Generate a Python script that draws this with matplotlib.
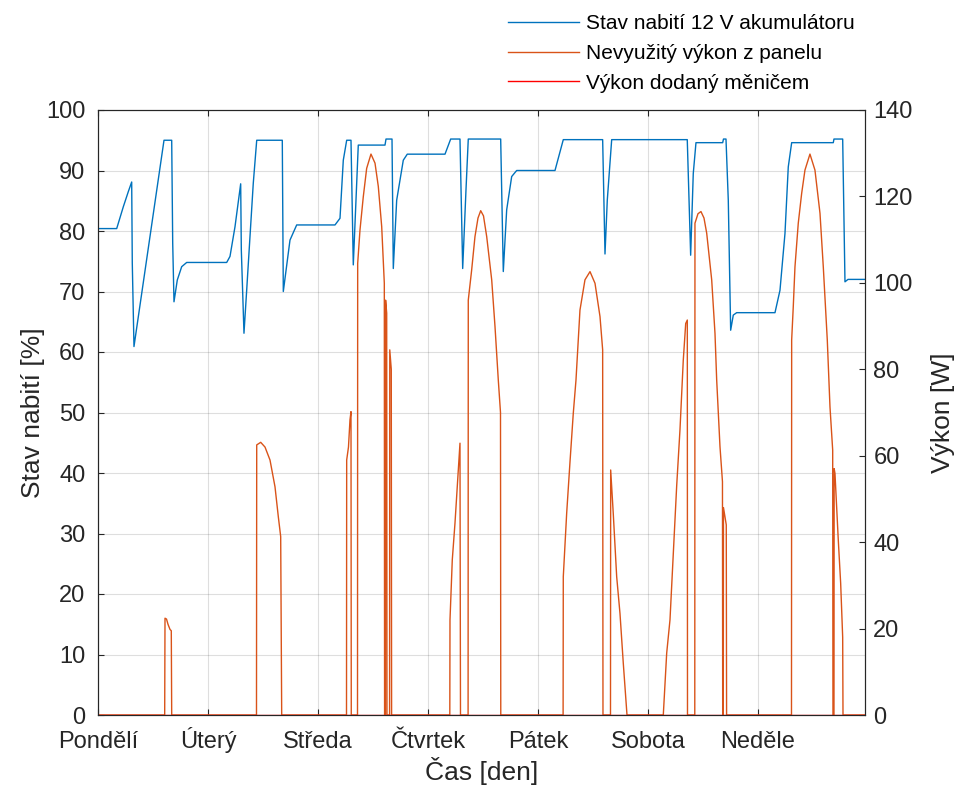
import matplotlib
matplotlib.use("Agg")
import matplotlib.pyplot as plt

plt.rcParams['font.family'] = ['Liberation Sans', 'DejaVu Sans']

# Stav nabiti akumulatoru: cas [h od pondeli 0:00], stav [%]
soc_t = [0.0, 4.08, 5.52, 6.61, 7.35, 7.48, 7.85, 14.40, 16.08, 16.30,
         16.58, 17.30, 18.26, 19.35, 28.08, 28.80, 29.89, 31.13, 31.27, 31.85,
         32.44, 33.88, 34.63, 40.21, 40.43, 41.89, 43.35, 51.71, 52.80, 53.52,
         54.26, 55.20, 55.70, 56.79, 62.62, 62.84, 64.15, 64.43, 65.17, 66.61,
         67.48, 75.71, 76.95, 78.98, 79.57, 80.29, 80.79, 87.86, 88.43, 89.17,
         90.26, 91.35, 99.71, 101.52, 110.11, 110.62, 111.12, 112.08, 128.57, 129.31,
         129.88, 130.47, 136.30, 136.47, 137.02, 137.52, 138.04, 138.61, 139.35, 147.71,
         148.80, 149.89, 150.61, 151.35, 160.43, 160.58, 162.48, 162.98, 163.64, 167.35]
soc_p = [80.4, 80.4, 84.0, 86.5, 88.1, 74.7, 60.9, 95.0, 95.0, 78.0,
         68.3, 71.9, 74.1, 74.8, 74.8, 75.8, 80.7, 87.8, 76.9, 63.1,
         70.2, 87.9, 95.0, 95.0, 70.0, 78.5, 81.0, 81.0, 82.1, 91.7,
         95.0, 95.0, 74.4, 94.2, 94.2, 95.2, 95.2, 73.8, 85.1, 91.7,
         92.7, 92.7, 95.2, 95.2, 73.8, 86.8, 95.2, 95.2, 73.3, 83.5,
         89.0, 90.0, 90.0, 95.1, 95.1, 76.2, 85.1, 95.1, 95.1, 76.0,
         89.5, 94.6, 94.6, 95.2, 95.2, 85.1, 63.6, 66.1, 66.5, 66.5,
         70.2, 79.6, 90.6, 94.6, 94.6, 95.2, 95.2, 71.6, 72.0, 72.0]

# Nevyuzity vykon z panelu: cas [h], vykon [W]
unused_t = [0.0,
            14.55, 14.62, 14.95, 15.27, 15.71, 15.99, 16.08,
            34.58, 34.63, 35.50, 36.44, 37.53, 38.62, 39.34, 39.86, 40.08,
            54.22, 54.26, 54.65, 54.98, 55.20, 55.26,
            56.62, 56.66, 57.16, 57.88, 58.62, 59.56, 60.44, 61.16, 61.90, 62.47,
            62.53, 62.71, 62.75, 62.99, 63.05, 63.62, 63.66, 63.99, 64.06,
            76.76, 76.80, 77.30, 77.89, 78.39, 78.98, 79.09,
            80.75, 80.79, 81.53, 82.25, 82.91, 83.50, 84.11, 84.81, 85.90, 86.62,
            87.34, 87.82, 87.88,
            101.48, 101.52, 102.26, 102.98, 103.70, 104.29, 105.16, 106.25, 107.35, 108.44,
            109.53, 110.11, 110.18,
            111.82, 111.86, 112.42, 113.17, 113.89, 114.61, 115.35, 115.42,
            123.34, 124.08, 124.80, 125.52, 126.26, 126.98, 127.70, 128.23, 128.58, 128.62,
            130.21, 130.25, 130.91, 131.56, 132.22, 132.81, 133.90, 134.62, 134.99, 135.71,
            136.25, 136.30, 136.43, 136.47, 137.08, 137.15,
            151.31, 151.35, 151.70, 152.07, 152.79, 153.53, 154.25, 155.34, 156.43, 157.53,
            158.25, 159.12, 159.71, 160.30, 160.36, 160.58, 160.62, 160.80, 161.52, 162.04,
            162.48, 162.55, 167.35]
unused_w = [0.0,
            0.0, 22.4, 22.2, 21.0, 19.8, 19.5, 0.0,
            0.0, 62.5, 63.1, 62.0, 59.0, 52.8, 45.9, 41.3, 0.0,
            0.0, 59.0, 62.0, 68.3, 70.2, 0.0,
            0.0, 104.5, 112.2, 119.9, 126.5, 129.8, 127.7, 122.3, 113.0, 99.9,
            0.0, 0.0, 96.0, 93.0, 0.0, 0.0, 84.5, 80.0, 0.0,
            0.0, 22.0, 35.9, 44.4, 52.8, 62.9, 0.0,
            0.0, 96.0, 103.0, 110.7, 115.0, 116.7, 115.5, 110.7, 100.7, 89.9,
            77.5, 70.0, 0.0,
            0.0, 32.0, 46.7, 58.5, 69.8, 77.5, 93.7, 100.7, 102.6, 99.9,
            92.2, 84.5, 0.0,
            0.0, 56.7, 46.7, 32.0, 23.5, 12.0, 1.2, 0.0,
            0.0, 14.3, 22.0, 37.4, 53.0, 66.0, 82.1, 90.6, 91.4, 0.0,
            0.0, 113.8, 116.0, 116.5, 115.0, 111.5, 100.7, 88.3, 77.5, 62.1,
            54.0, 0.0, 0.0, 48.0, 44.0, 0.0,
            0.0, 86.8, 94.5, 103.7, 113.8, 120.7, 126.1, 129.8, 126.1, 116.1,
            103.7, 86.8, 71.3, 61.3, 0.0, 0.0, 57.0, 55.9, 40.5, 30.5,
            18.0, 0.0, 0.0]

# Vykon dodany menicem: cely tyden nulovy
inverter_t = [0.0, 167.35]
inverter_w = [0.0, 0.0]

day_ticks = [0, 24, 48, 72, 96, 120, 144]
day_labels = ['Pondělí', 'Úterý', 'Středa', 'Čtvrtek', 'Pátek', 'Sobota', 'Neděle']
soc_ticks = list(range(0, 101, 10))
power_ticks = list(range(0, 141, 20))

dark = '#262626'

fig = plt.figure(figsize=(9.58, 7.87), dpi=100)
ax = fig.add_axes([98 / 958, 72 / 787, 767 / 958, 605 / 787])
ax2 = ax.twinx()

l1, = ax.plot(soc_t, soc_p, color='#0072BD', lw=1.0, label='Stav nabití 12 V akumulátoru')
l2, = ax2.plot(unused_t, unused_w, color='#D95319', lw=1.0, label='Nevyužitý výkon z panelu')
l3, = ax2.plot(inverter_t, inverter_w, color='#FF0000', lw=1.0, label='Výkon dodaný měničem')

ax.set_xlim(0, 167.35)
ax.set_ylim(0, 100)
ax2.set_ylim(0, 140)
ax.set_xticks(day_ticks)
ax.set_xticklabels(day_labels, va='baseline')
ax.set_yticks(soc_ticks)
ax2.set_yticks(power_ticks)

ax.grid(True, color=dark, alpha=0.15, lw=0.8)

for a in (ax, ax2):
    for s in a.spines.values():
        s.set_color(dark)
        s.set_linewidth(0.8)
ax.tick_params(axis='both', direction='in', length=4.5, width=0.8, colors=dark,
               labelsize=17, top=True)
ax.tick_params(axis='x', pad=23.5)
ax.tick_params(axis='y', pad=9)
ax2.tick_params(axis='y', direction='in', length=4.5, width=0.8, colors=dark,
                labelsize=17, pad=6)

ax.set_xlabel('Čas [den]', fontsize=19, color=dark, labelpad=3)
ax.set_ylabel('Stav nabití [%]', fontsize=19, color=dark, labelpad=1)
ax2.set_ylabel('Výkon [W]', fontsize=19, color=dark, labelpad=13)

fig.legend(handles=[l1, l2, l3], loc='upper left', bbox_to_anchor=(508 / 958, 1 - 14 / 787),
           frameon=False, fontsize=15, handlelength=3.4, handletextpad=0.35,
           labelspacing=0.52, borderpad=0, borderaxespad=0)

fig.savefig('out.png', dpi=100)
